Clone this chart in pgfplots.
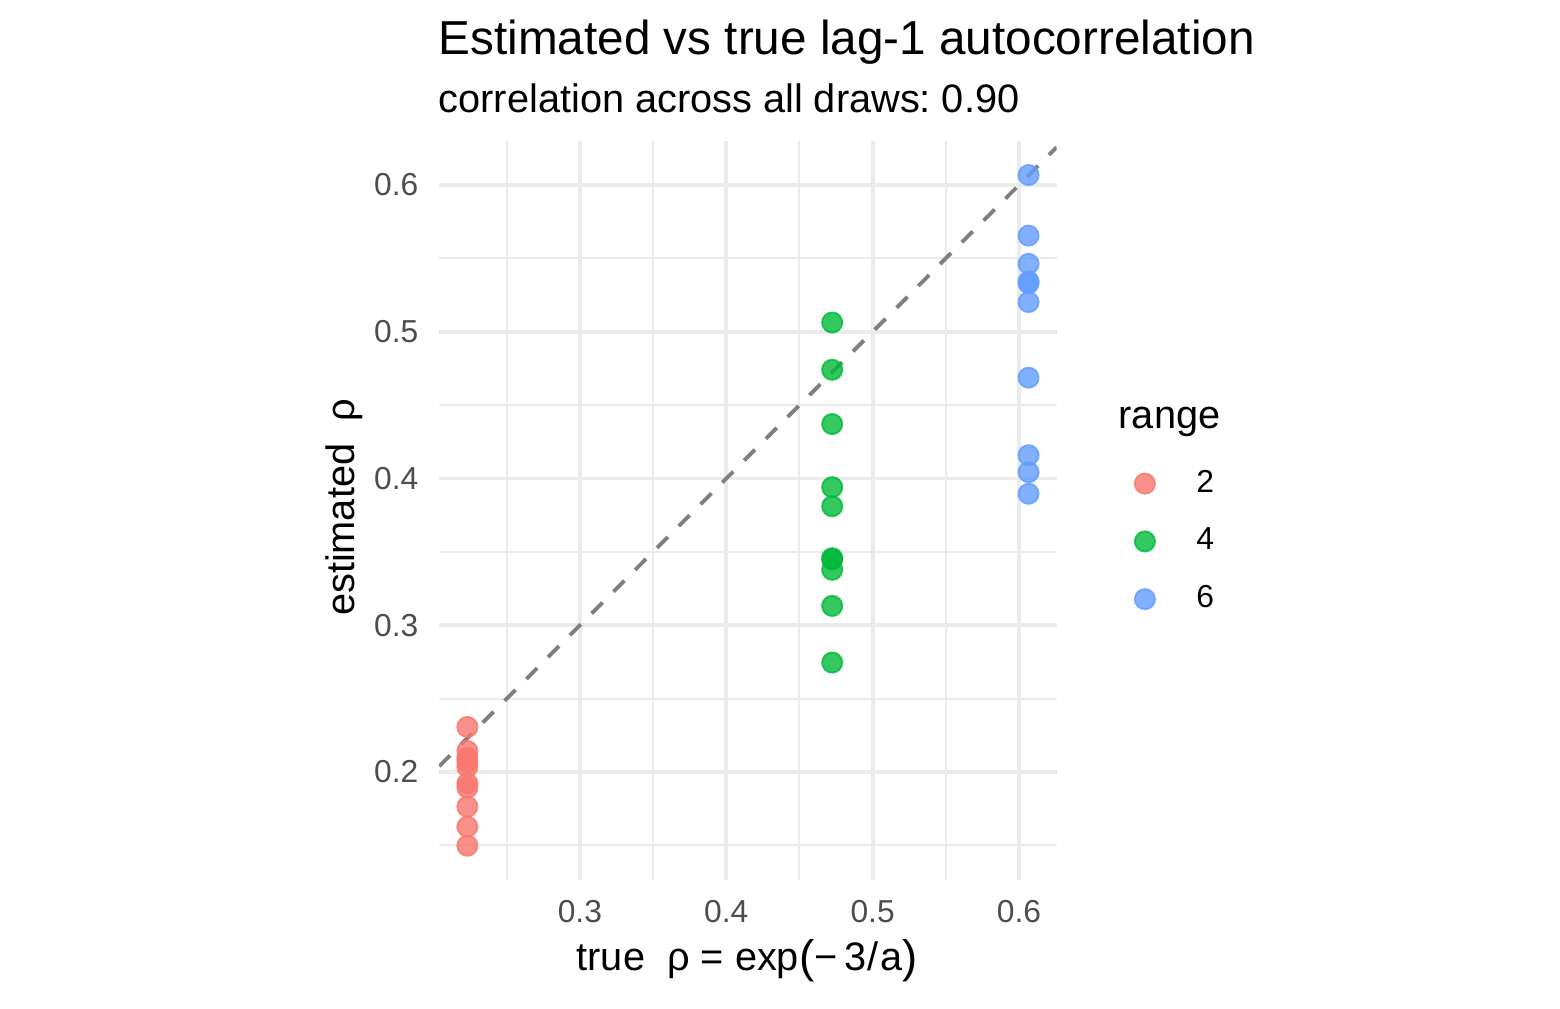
\documentclass[border=0pt]{standalone}
\usepackage{pgfplots}
\pgfplotsset{compat=1.18}
\usepackage{fontspec}
\setmainfont{Liberation Sans}
\frenchspacing
\definecolor{cr}{HTML}{F8766D}
\definecolor{cg}{HTML}{00BA38}
\definecolor{cb}{HTML}{619CFF}
\definecolor{gridc}{HTML}{EBEBEB}
\definecolor{tickc}{HTML}{4D4D4D}
\definecolor{dashc}{HTML}{7F7F7F}
\begin{document}
\begin{tikzpicture}
\path[use as bounding box] (0,0) rectangle (432pt,279.14pt);
\begin{axis}[
  at={(121.63pt,35.56pt)}, anchor=south west,
  scale only axis, width=170.97pt, height=204.42pt,
  xmin=0.2039, xmax=0.6257, ymin=0.1267, ymax=0.6297,
  xtick={0.3,0.4,0.5,0.6}, xticklabels={0.3,0.4,0.5,0.6},
  ytick={0.2,0.3,0.4,0.5,0.6}, yticklabels={0.2,0.3,0.4,0.5,0.6},
  minor xtick={0.25,0.35,0.45,0.55},
  minor ytick={0.15,0.25,0.35,0.45,0.55},
  grid=both,
  major grid style={line width=1.07pt, color=gridc},
  minor grid style={line width=0.53pt, color=gridc},
  axis line style={draw=none},
  major tick length=0pt, minor tick length=0pt,
  ticklabel style={font=\fontsize{8.8}{10}\selectfont, text=tickc},
  xticklabel style={inner sep=0pt, anchor=north, yshift=-5.5pt},
  yticklabel style={inner sep=0pt, anchor=east, xshift=-5.6pt},
  legend image code/.code={\draw[#1] plot coordinates {(0pt,0pt)};},
  legend style={at={(axis description cs:1,1)}, anchor=north west,
    xshift=21.65pt, yshift=-90.95pt,
    draw=none, fill=none, inner sep=0pt, outer sep=0pt,
    row sep=8.4pt,
    font=\fontsize{8.8}{10}\selectfont,
    nodes={inner sep=0pt, text=black},
    /tikz/every odd column/.append style={column sep=11.45pt}},
  clip=true,
]
\addplot[dashc, line width=1.07pt, dash pattern=on 4.27pt off 4.27pt, forget plot]
  coordinates {(0.2039,0.2039) (0.6257,0.6257)};
\addplot[only marks, mark=*, mark size=2.8pt, line width=0.5pt,
  mark options={draw=cr, fill=cr, draw opacity=0.8, fill opacity=0.8}]
  coordinates {
  (0.22313,0.2307) (0.22313,0.2143) (0.22313,0.2097) (0.22313,0.2070) (0.22313,0.2036)
  (0.22313,0.1923) (0.22313,0.1893) (0.22313,0.1764) (0.22313,0.1627) (0.22313,0.1498)};
\addlegendentry{2}
\addplot[only marks, mark=*, mark size=2.8pt, line width=0.5pt,
  mark options={draw=cg, fill=cg, draw opacity=0.8, fill opacity=0.8}]
  coordinates {
  (0.47237,0.5063) (0.47237,0.4741) (0.47237,0.4371) (0.47237,0.3941) (0.47237,0.3811)
  (0.47237,0.3457) (0.47237,0.3449) (0.47237,0.3378) (0.47237,0.3132) (0.47237,0.2746)};
\addlegendentry{4}
\addplot[only marks, mark=*, mark size=2.8pt, line width=0.5pt,
  mark options={draw=cb, fill=cb, draw opacity=0.8, fill opacity=0.8}]
  coordinates {
  (0.60653,0.6068) (0.60653,0.5655) (0.60653,0.5463) (0.60653,0.5343) (0.60653,0.5330)
  (0.60653,0.5202) (0.60653,0.4687) (0.60653,0.4159) (0.60653,0.4043) (0.60653,0.3896)};
\addlegendentry{6}
\end{axis}
\node[anchor=base west, inner sep=0pt, font=\fontsize{13.2}{15}\selectfont] at (121.3pt,263.91pt) {Estimated vs true lag-1 autocorrelation};
\node[anchor=base west, inner sep=0pt, font=\fontsize{11}{13}\selectfont] at (121.3pt,248.12pt) {correlation across all draws: 0.90};
\node[anchor=base, inner sep=0pt, font=\fontsize{11}{13}\selectfont] at (206.86pt,10.52pt) {true~~ρ = exp\raisebox{-0.6pt}{\fontsize{12.6}{13}\selectfont(}−\,3\kern0.4pt/\kern0.4pt a\raisebox{-0.6pt}{\fontsize{12.6}{13}\selectfont)}};
\node[anchor=base, rotate=90, inner sep=0pt, font=\fontsize{11}{13}\selectfont] at (98.3pt,138.6pt) {estimated~~ρ};
\node[anchor=base west, inner sep=0pt, font=\fontsize{11}{13}\selectfont] at (309.6pt,160.6pt) {range};
\end{tikzpicture}
\end{document}
